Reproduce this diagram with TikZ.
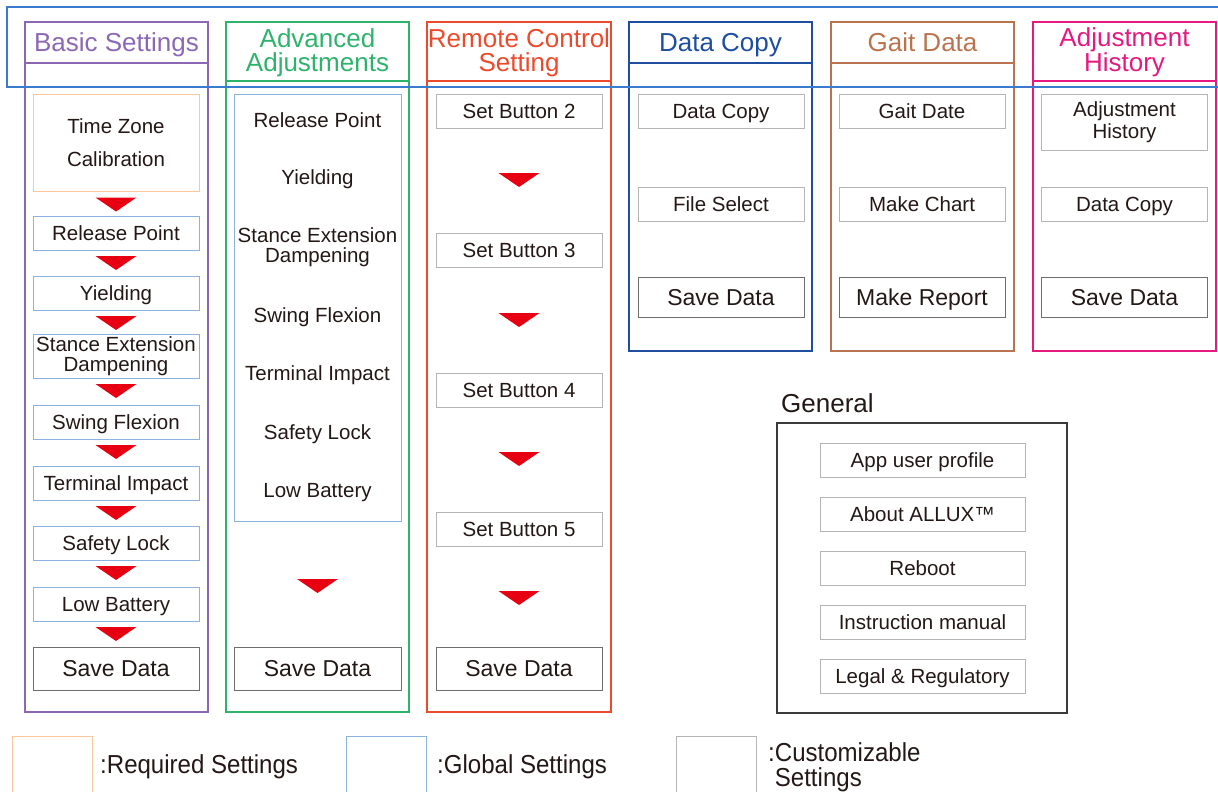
\documentclass[tikz,border=0pt]{standalone}
\usepackage{fontspec}
\setmainfont{Liberation Sans}
\newfontfamily\legendfont[FakeStretch=0.925]{Liberation Sans}
\definecolor{txt}{HTML}{231815}
\definecolor{basiccol}{HTML}{8C68B4}
\definecolor{advcol}{HTML}{2EB36B}
\definecolor{remcol}{HTML}{EC4A2C}
\definecolor{copycol}{HTML}{1E4E9F}
\definecolor{gaitcol}{HTML}{B9744F}
\definecolor{histcol}{HTML}{E5197F}
\definecolor{globcol}{HTML}{3A7BD0}
\definecolor{globbox}{HTML}{8DB2E0}
\definecolor{reqbox}{HTML}{F8C79C}
\definecolor{custbox}{HTML}{B5B5B5}
\definecolor{savebox}{HTML}{6E6E6E}
\definecolor{genbox}{HTML}{3A3A3A}
\definecolor{trired}{HTML}{E60012}

\newcommand{\headfont}{\fontsize{26}{24}\selectfont}
\newcommand{\itemfont}{\fontsize{20.5}{19}\selectfont}
\newcommand{\savefont}{\fontsize{23}{23}\selectfont}

\tikzset{
  colframe/.style={line width=1.4pt},
  coltitle/.style={font=\headfont, align=center, inner sep=0pt},
  custitem/.style={draw=custbox, line width=1pt, minimum width=166pt, minimum height=34pt,
    inner sep=0pt, font=\itemfont, text=txt, align=center, text height=18pt, text depth=3.3pt},
  globitem/.style={custitem, draw=globbox},
  reqitem/.style={custitem, draw=reqbox},
  saveitem/.style={custitem, draw=savebox, minimum height=43pt, font=\savefont,
    text height=20pt, text depth=3.5pt},
  twoline/.style={text height={}, text depth={}},
  listtext/.style={font=\itemfont, text=txt, align=center, inner sep=0pt,
    text height=18pt, text depth=3.3pt},
  legendtext/.style={font=\legendfont\fontsize{26}{25}\selectfont, text=txt, align=left, inner sep=0pt},
  tri/.pic={\fill[trired] (-20.5,0) -- (20.5,0) -- (0,14) -- cycle;}
}

\begin{document}
\begin{tikzpicture}[x=1pt, y=-1pt]
\useasboundingbox (0,0) rectangle (1218,792);

% Basic Settings
\draw[colframe, basiccol] (25,22) rectangle (208,712);
\draw[colframe, basiccol] (25,63) -- (208,63);
\node[coltitle, basiccol, anchor=base] (basic) at (116.5,52) {Basic Settings};
\node[reqitem, twoline, minimum height=97pt, font=\fontsize{20.5}{33}\selectfont] (tz) at (116,143) {Time Zone\\Calibration};
\node[globitem] (rp) at (116,233) {Release Point};
\node[globitem] (yl) at (116,293) {Yielding};
\node[globitem, twoline, minimum height=44pt, font=\fontsize{20.5}{19.5}\selectfont] (se) at (116,356) {Stance Extension\\Dampening};
\node[globitem] (sf) at (116,422) {Swing Flexion};
\node[globitem] (ti) at (116,483) {Terminal Impact};
\node[globitem] (sl) at (116,543) {Safety Lock};
\node[globitem] (lb) at (116,604) {Low Battery};
\node[saveitem] (bsave) at (116,668.5) {Save Data};
\foreach \a in {tz,rp,yl,se,sf,ti,sl,lb}
  \pic at ([yshift=-5.5pt]\a.south) {tri};

% Advanced Adjustments
\draw[colframe, advcol] (226,22) rectangle (409,712);
\draw[colframe, advcol] (226,81) -- (409,81);
\node[coltitle, advcol] (adv) at (317.5,52.3) {Advanced\\Adjustments};
\node[globitem, minimum width=167pt, minimum height=427pt] (advlist) at (317.5,307.5) {};
\node[listtext] (arp) at (317.5,120) {Release Point};
\node[listtext] (ayl) at (317.5,177.5) {Yielding};
\node[listtext, twoline, font=\fontsize{20.5}{20}\selectfont] (ase) at (317.5,247) {Stance Extension\\Dampening};
\node[listtext] (asf) at (317.5,315) {Swing Flexion};
\node[listtext] (ati) at (317.5,373) {Terminal Impact};
\node[listtext] (asl) at (317.5,432) {Safety Lock};
\node[listtext] (alb) at (317.5,490.5) {Low Battery};
\pic at (317.5,579) {tri};
\node[saveitem, minimum width=167pt] (asave) at (317.5,668.5) {Save Data};

% Remote Control Setting
\draw[colframe, remcol] (427,22) rectangle (611,712);
\draw[colframe, remcol] (427,81) -- (611,81);
\node[coltitle, remcol] (rem) at (519,52.3) {Remote Control\\Setting};
\node[custitem] (sb2) at (519,111) {Set Button 2};
\node[custitem] (sb3) at (519,250) {Set Button 3};
\node[custitem] (sb4) at (519,390) {Set Button 4};
\node[custitem] (sb5) at (519,529) {Set Button 5};
\node[saveitem] (rsave) at (519,668.5) {Save Data};
\foreach \y in {173,313,452,591}
  \pic at (519,\y) {tri};

% Data Copy
\draw[colframe, copycol] (629,22) rectangle (812,351);
\draw[colframe, copycol] (629,63) -- (812,63);
\node[coltitle, copycol, anchor=base] (copy) at (720.5,52) {Data Copy};
\node[custitem] (dc) at (721,111) {Data Copy};
\node[custitem] (fs) at (721,204) {File Select};
\node[saveitem, minimum height=40pt] (csave) at (721,297) {Save Data};

% Gait Data
\draw[colframe, gaitcol] (831,22) rectangle (1014,351);
\draw[colframe, gaitcol] (831,63) -- (1014,63);
\node[coltitle, gaitcol, anchor=base] (gait) at (922.5,52) {Gait Data};
\node[custitem] (gd) at (922,111) {Gait Date};
\node[custitem] (mc) at (922,204) {Make Chart};
\node[saveitem, minimum height=40pt] (mr) at (922,297) {Make Report};

% Adjustment History
\draw[colframe, histcol] (1033,22) rectangle (1216,351);
\draw[colframe, histcol] (1033,81) -- (1216,81);
\node[coltitle, histcol] (hist) at (1124.5,52.3) {Adjustment\\History};
\node[custitem, twoline, minimum height=56pt, font=\fontsize{20.5}{22}\selectfont] (ah) at (1124.5,122) {Adjustment\\History};
\node[custitem] (hdc) at (1124.5,204) {Data Copy};
\node[saveitem, minimum height=40pt] (hsave) at (1124.5,297) {Save Data};

% global settings band
\draw[globcol, line width=1.2pt] (1230,7) -| (7,87) -- (1230,87);

% General
\node[coltitle, txt, anchor=base west] (gen) at (781,412.5) {General};
\draw[genbox, line width=1.2pt] (777,423) rectangle (1067,713);
\foreach \y/\n/\t in {460/gup/App user profile, 514/gab/About ALLUX™, 568/grb/Reboot,
    622/gim/Instruction manual, 676/glr/Legal \& Regulatory}
  \node[custitem, minimum width=205pt] (\n) at (922.5,\y) {\t};

% legend
\draw[reqbox, line width=1pt] (12,736) rectangle (92,800);
\node[legendtext, anchor=base west] (lreq) at (100,773) {:Required Settings};
\draw[globbox, line width=1pt] (346,736) rectangle (426,800);
\node[legendtext, anchor=base west] (lglob) at (437,773) {:Global Settings};
\draw[custbox, line width=1pt] (676,736) rectangle (756,800);
\node[legendtext, anchor=north west] (lcust) at (768,742.7) {:Customizable\\\hphantom{:}Settings};
\end{tikzpicture}
\end{document}
